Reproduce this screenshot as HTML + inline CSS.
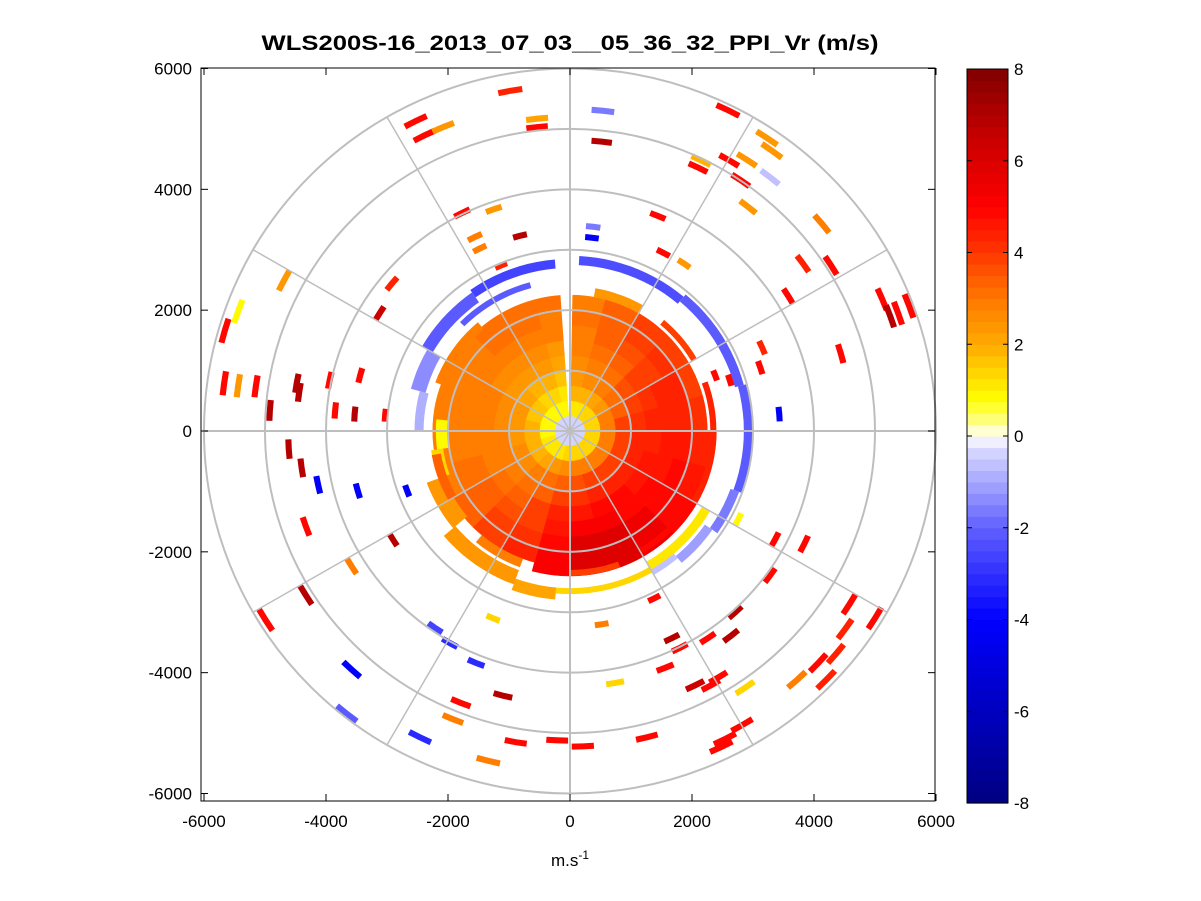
<!DOCTYPE html>
<html><head><meta charset="utf-8"><style>
body{margin:0;background:#fff;}
svg{display:block;font-family:"Liberation Sans",Arial,sans-serif;}
</style></head><body>
<svg id="chart" width="1201" height="901" viewBox="0 0 1201 901">
<rect width="1201" height="901" fill="#fff"/>
<text x="570" y="50" text-anchor="middle" font-size="21" font-weight="bold" textLength="617" lengthAdjust="spacingAndGlyphs">WLS200S-16_2013_07_03__05_36_32_PPI_Vr (m/s)</text>
<g id="plot"></g>
<g id="axes"></g>
<g id="cbar"></g>
<text x="570" y="866" text-anchor="middle" font-size="17">m.s<tspan dy="-7" font-size="12">-1</tspan></text>
</svg>
<script>
// ---- data ----
const xTicks = [-6000,-4000,-2000,0,2000,4000,6000];
const yTicks = [-6000,-4000,-2000,0,2000,4000,6000];
const cbarTicks = [-8,-6,-4,-2,0,2,4,6,8];
const ringRadii = [1000,2000,3000,4000,5000,6000];
const spokeAngles = [0,30,60,90,120,150,180,210,240,270,300,330];
// inner disc: sectors every 15 deg (compass azimuth), rings every 250 m
const discSectorAz = [0,15,30,45,60,75,90,105,120,135,150,165,180,195,210,225,240,255,270,285,300,315,330,345];
const discRingR = [0,250,500,750,1000,1250,1500,1750,2000];
const discValues = [
[-0.3,1.2,1.8,2.3,2.6,2.8,3.0,3.2,3.0],
[-0.3,1.2,2.0,2.6,3.0,3.2,3.3,3.5,3.3],
[-0.3,1.3,2.2,2.8,3.2,3.4,3.6,3.8,3.8],
[-0.3,1.3,2.5,3.2,3.6,3.8,4.0,4.2,4.0],
[-0.3,1.5,2.8,3.5,3.9,4.2,4.3,4.3,4.0],
[-0.3,1.5,3.0,3.8,4.2,4.4,4.5,4.5,4.2],
[-0.3,1.5,3.0,3.8,4.3,4.5,4.6,4.6,4.5],
[-0.3,1.5,3.0,3.8,4.3,4.6,4.7,4.8,4.6],
[-0.3,1.5,3.0,3.9,4.4,4.7,4.8,5.0,5.0],
[-0.3,1.5,3.0,3.9,4.4,4.8,5.0,5.5,5.5],
[-0.3,1.5,3.0,3.8,4.4,4.8,5.2,5.8,6.0],
[-0.3,1.4,2.8,3.6,4.2,4.7,5.2,5.8,6.0],
[-0.3,1.3,2.6,3.4,3.9,4.3,4.7,5.0,5.2],
[-0.3,1.2,2.4,3.1,3.5,3.8,4.0,4.2,4.3],
[-0.3,1.2,2.2,2.9,3.2,3.5,3.7,3.8,3.8],
[-0.3,1.1,2.0,2.7,3.0,3.2,3.3,3.4,3.3],
[-0.3,1.1,2.0,2.6,2.9,3.0,3.1,3.1,3.0],
[-0.3,1.0,1.9,2.5,2.8,2.9,3.0,3.0,2.9],
[-0.3,1.0,1.8,2.4,2.7,2.8,2.9,3.0,2.8],
[-0.3,1.0,1.7,2.3,2.6,2.8,2.9,3.0,2.9],
[-0.3,1.0,1.6,2.2,2.5,2.7,2.9,3.0,3.0],
[-0.3,1.0,1.5,2.0,2.4,2.7,2.9,3.1,3.1],
[-0.3,1.0,1.3,1.8,2.3,2.6,2.9,3.1,3.2],
[-0.3,1.0,1.1,1.6,2.1,2.5,2.8,3.0,3.2]
];
// arcs: azimuth start, azimuth end, inner range, outer range
const arcAzStart = [3,40,75,110,125,140,325,300,285,270,315,185,200,230,250,150,120,262,10,40,70,100,130,290,240,200,160];
const arcAzEnd   = [40,75,110,125,140,150,355,325,300,285,345,200,230,250,262,185,150,275,30,60,90,120,150,320,260,220,180];
const arcRIn     = [2750,2800,2850,2800,2700,2600,2700,2600,2450,2400,2450,2600,2450,2200,2100,2600,2500,2000,2250,2300,2300,2300,2250,2200,2150,2250,2300];
const arcROut    = [2900,2950,3000,2950,2850,2750,2850,2800,2700,2550,2550,2800,2700,2500,2300,2700,2650,2200,2400,2400,2400,2400,2350,2350,2300,2400,2400];
const arcValues  = [-2.4,-2.2,-2.0,-1.6,-1.1,-0.7,-2.6,-2.1,-1.3,-0.9,-2.2,2.2,2.3,2.5,1.5,1.3,1.2,1.0,2.5,4.0,4.5,4.5,5.0,3.0,3.5,3.0,4.0];
// sparse range gates: east (m), north (m), value (m/s)
const gateEast  = [-980,-540,-540,540,520,-2530,-2390,-2080,2590,3230,3310,2900,2100,2150,2610,2800,3280,2920,4130,3820,4280,3580,-1770,-1250,-820,-1560,-1480,-1130,1440,380,360,1530,1870,-2920,-3120,-5440,-5660,-4690,5120,5250,5380,5560,-5670,-5440,-5150,-4920,-4480,-4440,-3940,-3440,-3850,-3530,-3030,-4610,-4400,-4130,-3480,-2670,-4330,-3580,-2900,4440,3430,2380,2620,3150,3120,2760,3360,3840,3280,4580,4510,4360,5000,4070,3720,4200,2870,2310,2050,2430,2710,2640,2260,1670,1800,1560,1380,520,740,1260,2480,2540,2820,210,-210,-890,-1340,-1790,-1920,-2460,-2210,-1970,-1540,-1100,-1260,-3580,-3660,-4330,-4990];
const gateNorth = [5630,5170,5030,5300,4790,5130,4890,5030,5310,4850,4640,4490,4360,4480,4480,4150,4200,3710,3430,2770,2740,2230,3610,3670,3230,3210,3020,2740,3560,3380,3200,2950,2770,2440,1950,1980,1660,2490,2180,1900,1950,2070,790,750,740,340,790,640,840,920,340,280,260,-300,-610,-890,-990,-990,-1580,-2240,-1800,1280,280,920,840,1380,1050,-1460,-1800,-1870,-2390,-2870,-3280,-3690,-3100,-3840,-4120,-4120,-4250,-4210,-4210,-4080,-3000,-3390,-3430,-3430,-3590,-3920,-2770,-3200,-4170,-5070,-5230,-5100,-4870,-5220,-5120,-5150,-5460,-4500,-4770,-5070,-3260,-3510,-3840,-4380,-3100,-3950,-4680,-2720,-3130];
const gateValue = [4.5,2.2,5,-1.5,7,5,5,2.5,5,2.5,2.5,2.5,5,2,5,5,-0.7,2.5,3,4.5,5,5,5,2.5,7,3,3,4.5,5,-1.5,-4,5,2.5,4.5,6.5,1,5,2.5,5,7,5,5,5,2.5,5,7,7,7,5,5,5,7,5,7,7,-4,-4,-4,5,3,7,5,-4,5,5,4.5,5,0.8,5,5,5,5,4.5,4.5,5,5,3,4.5,1.5,5,6.5,5,7,7,5,7,5,5,5,3,1.5,5,5,5,5,5,5,5,3,5,3,-3,-2.5,-3,-3,7,1.5,-4,-2,7,5];
const cmapVals = [-8,-4,-2,-0.3,0,0.3,0.8,2,3,4,5,6.5,8];
const cmapCols = [[0,0,128],[0,0,255],[96,96,255],[216,216,255],[255,255,255],[255,255,140],[255,255,0],[255,170,0],[255,120,0],[255,55,0],[255,0,0],[200,0,0],[128,0,0]];

// ---- scales ----
const NS='http://www.w3.org/2000/svg';
const cx=570, cy=431, sx=366/6000, sy=362.5/6000;
const X = v => cx + v*sx;
const Y = v => cy - v*sy;
function color(v){
  let q = Math.max(-8,Math.min(8,v));
  q = -8 + (Math.floor((q+8)/16*64 - 1e-9)+0.5)*16/64;
  if(Math.abs(v)<0.12) q=0;
  for(let i=0;i<cmapVals.length-1;i++){
    if(q<=cmapVals[i+1]){
      const t=(q-cmapVals[i])/(cmapVals[i+1]-cmapVals[i]);
      const a=cmapCols[i], b=cmapCols[i+1];
      return 'rgb('+a.map((c,k)=>Math.round(c+(b[k]-c)*t)).join(',')+')';
    }
  }
  return 'rgb(128,0,0)';
}
function pt(az,r){const a=az*Math.PI/180;return [X(r*Math.sin(a)),Y(r*Math.cos(a))];}
function sector(az0,az1,r0,r1){
  const n=Math.max(2,Math.ceil((az1-az0)/3));
  let d='';
  for(let i=0;i<=n;i++){const p=pt(az0+(az1-az0)*i/n,r1);d+=(i?'L':'M')+p[0].toFixed(1)+','+p[1].toFixed(1);}
  for(let i=n;i>=0;i--){const p=pt(az0+(az1-az0)*i/n,r0);d+='L'+p[0].toFixed(1)+','+p[1].toFixed(1);}
  return d+'Z';
}
function mk(tag,attrs,parent){const e=document.createElementNS(NS,tag);for(const k in attrs)e.setAttribute(k,attrs[k]);parent.appendChild(e);return e;}
const plot=document.getElementById('plot'), axes=document.getElementById('axes'), cbar=document.getElementById('cbar');

const discStep=discSectorAz[1]-discSectorAz[0], ringStep=discRingR[1]-discRingR[0];
discSectorAz.forEach((az,i)=>{
  discRingR.forEach((r,j)=>{
    const c=color(discValues[i][j]);
    const e=mk('path',{d:sector(az,az+discStep,r,r+ringStep+(j==discRingR.length-1?(i>=6&&i<=12?150:0):0)),fill:c,stroke:c,'stroke-width':0.5},plot);
    
    
  });
});
const gap=mk('path',{d:sector(-4,1,300,2500),fill:'#fff'},plot);


arcValues.forEach((v,i)=>{
  const c=color(v);
  const e=mk('path',{d:sector(arcAzStart[i],arcAzEnd[i],arcRIn[i],arcROut[i]),fill:c},plot);
  
  
});
gateValue.forEach((v,i)=>{
  const e0=gateEast[i], n0=gateNorth[i];
  const r=Math.hypot(e0,n0), az=Math.atan2(e0,n0)*180/Math.PI;
  const c=color(v);
  const e=mk('path',{d:sector(az-2,az+2,r-50,r+50),fill:c},plot);
  
  
});
ringRadii.forEach(r=>{
  const e=mk('ellipse',{cx:cx,cy:cy,rx:r*sx,ry:r*sy,fill:'none',stroke:'#bebebe','stroke-width':2},axes);
  
  
});
spokeAngles.forEach(a=>{
  const p=pt(a,6000);
  const e=mk('line',{x1:cx,y1:cy,x2:p[0],y2:p[1],stroke:'#bebebe','stroke-width':(a%90==0?2:1.5)},axes);
  
  
});
const L=201,R=935,T=68,B=801;
const box=mk('rect',{x:L,y:T,width:R-L,height:B-T,fill:'none',stroke:'#000','stroke-width':1},axes);


xTicks.forEach(v=>{
  const x=X(v);
  mk('line',{x1:x,y1:B,x2:x,y2:B-7,stroke:'#000'},axes);
  mk('line',{x1:x,y1:T,x2:x,y2:T+7,stroke:'#000'},axes);
  const t=mk('text',{x:x,y:B+26,'text-anchor':'middle','font-size':17},axes);
  t.textContent=v;
  
  
});
yTicks.forEach(v=>{
  const y=Y(v);
  mk('line',{x1:L,y1:y,x2:L+7,y2:y,stroke:'#000'},axes);
  mk('line',{x1:R,y1:y,x2:R-7,y2:y,stroke:'#000'},axes);
  const t=mk('text',{x:L-9,y:y+6,'text-anchor':'end','font-size':17},axes);
  t.textContent=v;
  
  
});
const CL=967,CR=1008,CT=69,CB=803;
for(let k=0;k<64;k++){
  const v=-8+(k+0.5)*16/64;
  const y0=CB-(k+1)*(CB-CT)/64;
  const e=mk('rect',{x:CL,y:y0,width:CR-CL,height:(CB-CT)/64+0.6,fill:color(v)},cbar);
  
  
}
const cb=mk('rect',{x:CL,y:CT,width:CR-CL,height:CB-CT,fill:'none',stroke:'#000'},cbar);


cbarTicks.forEach(v=>{
  const y=CB-(v+8)/16*(CB-CT);
  mk('line',{x1:CL,y1:y,x2:CL+5,y2:y,stroke:'#000'},cbar);
  mk('line',{x1:CR,y1:y,x2:CR-5,y2:y,stroke:'#000'},cbar);
  const t=mk('text',{x:CR+6,y:y+6,'font-size':17},cbar);
  t.textContent=v;
  
  
});
</script>
</body></html>
